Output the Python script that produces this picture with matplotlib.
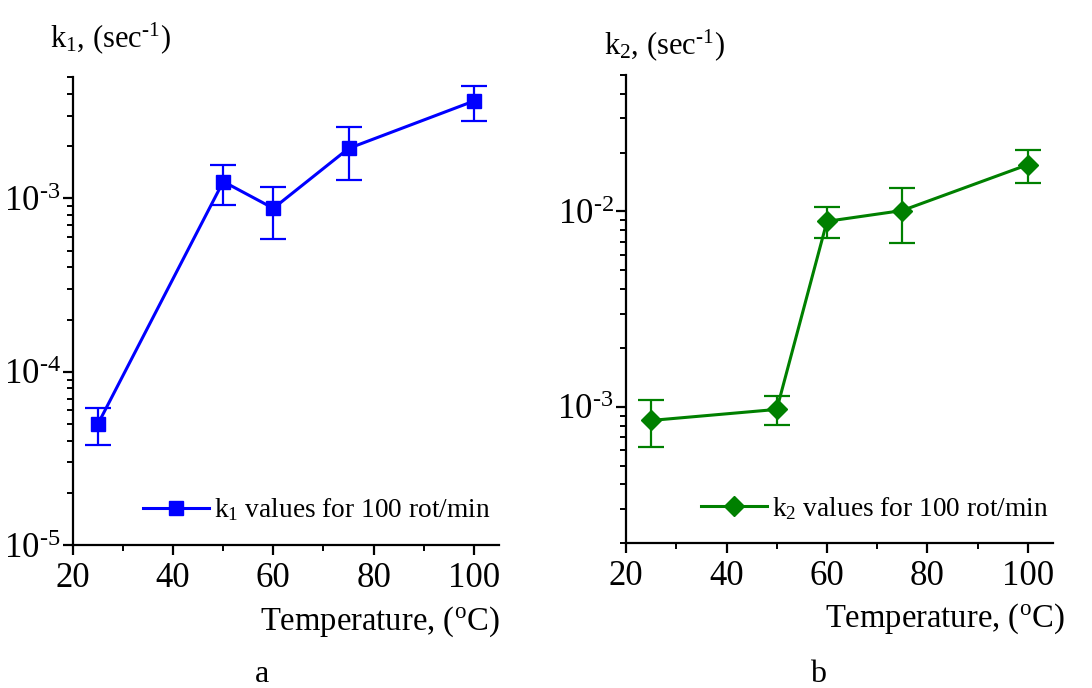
import matplotlib
matplotlib.use("Agg")
import matplotlib.pyplot as plt
from matplotlib.ticker import LogLocator, FuncFormatter, MultipleLocator, NullFormatter
import numpy as np

plt.rcParams['font.family'] = ['Liberation Serif', 'DejaVu Serif']
plt.rcParams['mathtext.fontset'] = 'custom'
plt.rcParams['mathtext.rm'] = 'Liberation Serif'
plt.rcParams['mathtext.it'] = 'Liberation Serif'

temperature = [25, 50, 60, 75, 100]
k1 = [5.0e-5, 1.25e-3, 0.876e-3, 1.94e-3, 3.64e-3]
k1_upper = [6.2e-5, 1.55e-3, 1.166e-3, 2.58e-3, 4.42e-3]
k1_lower = [3.8e-5, 0.915e-3, 0.584e-3, 1.27e-3, 2.78e-3]
k2 = [0.851e-3, 0.969e-3, 8.89e-3, 1.01e-2, 1.734e-2]
k2_upper = [1.086e-3, 1.135e-3, 1.053e-2, 1.318e-2, 2.06e-2]
k2_lower = [0.622e-3, 0.809e-3, 7.31e-3, 6.91e-3, 1.40e-2]

HY = '\u2010'

fig = plt.figure(figsize=(10.92, 6.88), dpi=100)
axL = fig.add_axes([0.0668, 0.2078, 0.390, 0.680])
axR = fig.add_axes([0.5733, 0.2103, 0.391, 0.681])

def fmt(v, pos):
    e = int(round(np.log10(v)))
    return r'$\mathregular{10^{%s%d}}$' % (HY if e < 0 else '', abs(e))

def style(ax, ylim):
    ax.set_yscale('log')
    ax.set_xlim(20, 105)
    ax.set_ylim(*ylim)
    for s in ['top', 'right']:
        ax.spines[s].set_visible(False)
    for s in ['left', 'bottom']:
        ax.spines[s].set_linewidth(1.6)
    ax.xaxis.set_major_locator(MultipleLocator(20))
    ax.xaxis.set_minor_locator(MultipleLocator(10))
    ax.yaxis.set_major_locator(LogLocator(base=10, numticks=10))
    ax.yaxis.set_minor_locator(LogLocator(base=10, subs=np.arange(2, 10), numticks=20))
    ax.yaxis.set_major_formatter(FuncFormatter(fmt))
    ax.yaxis.set_minor_formatter(NullFormatter())
    ax.tick_params(which='major', length=7, width=1.6, labelsize=25, direction='out')
    ax.tick_params(which='minor', length=4, width=1.4, direction='out')
    ax.tick_params(axis='y', pad=2)
    ax.tick_params(axis='x', pad=5)

def draw(ax, y, up, lo, color, marker, ms, label):
    y = np.array(y); up = np.array(up); lo = np.array(lo)
    ax.errorbar(temperature, y, yerr=[y - lo, up - y], color=color, ecolor=color,
                elinewidth=1.6, capsize=9.4, capthick=1.6, fmt='none', zorder=2)
    ax.plot(temperature, y, color=color, lw=2.2, marker=marker, ms=ms,
            markeredgecolor=color, markerfacecolor=color, label=label, zorder=3)

draw(axL, k1, k1_upper, k1_lower, '#0000ff', 's', 10.5, r'k$_\mathregular{1}$ values for 100 rot/min')
draw(axR, k2, k2_upper, k2_lower, '#008000', 'D', 10.5, r'k$_\mathregular{2}$ values for 100 rot/min')
style(axL, (1e-5, 5e-3))
style(axR, (2e-4, 5e-2))

for ax, bx in [(axL, 0.981), (axR, 0.99)]:
    ax.legend(loc='center right', bbox_to_anchor=(bx, 0.075), frameon=False,
              fontsize=19.7, handlelength=2.4, handletextpad=0.2, borderpad=0,
              borderaxespad=0, numpoints=1)

ylab = r'k$_\mathregular{%d}$, (sec$^\mathregular{' + HY + '1}$)'
fig.text(50/1092, 1 - 38/688, ylab % 1, fontsize=22, ha='left', va='center')
fig.text(604/1092, 1 - 45/688, ylab % 2, fontsize=22, ha='left', va='center')
xlab = r'Temperature, ($^\mathregular{o}$C)'
fig.text(500/1092, 1 - 622/688, xlab, fontsize=23.5, ha='right', va='center')
fig.text(1065/1092, 1 - 619/688, xlab, fontsize=23.5, ha='right', va='center')
fig.text(262/1092, 1 - 674/688, 'a', fontsize=23, ha='center', va='center')
fig.text(818/1092, 1 - 674/688, 'b', fontsize=23, ha='center', va='center')

fig.savefig('out.png', dpi=100)
